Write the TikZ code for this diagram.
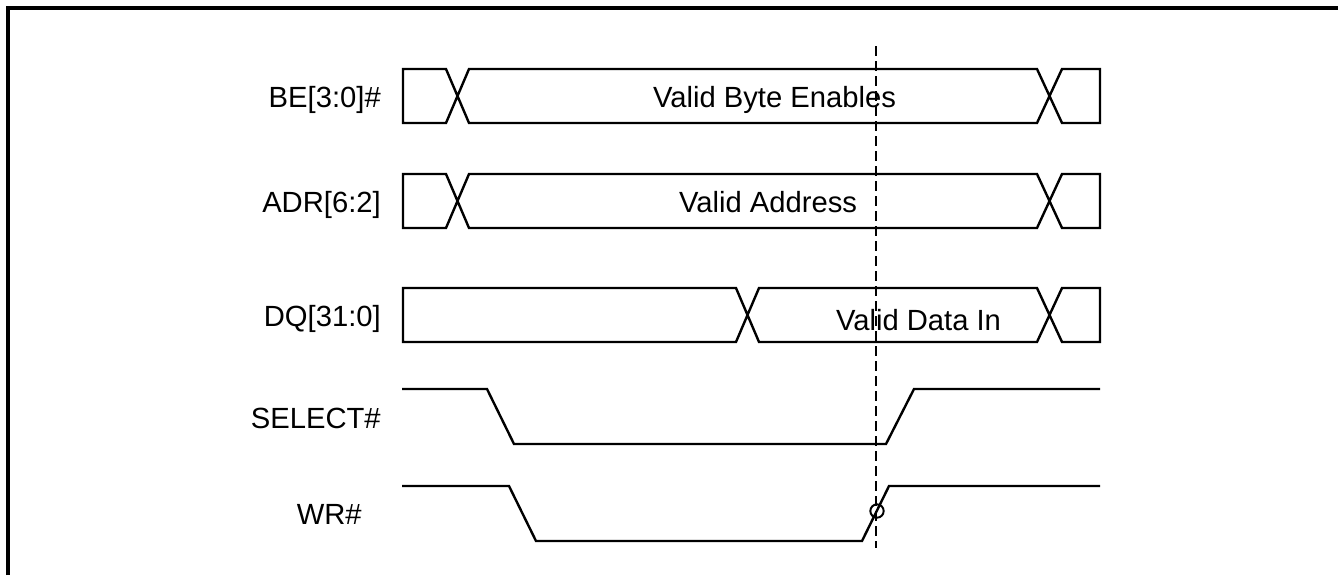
\documentclass[tikz,border=0pt]{standalone}
\usepackage{fontspec}
\setmainfont{Liberation Sans}
\begin{document}
\begin{tikzpicture}[x=0.75pt,y=-0.75pt,
  sig/.style={line width=1.8pt, line join=miter},
  frame/.style={line width=2.6pt},
  lbl/.style={anchor=base east, inner sep=0pt, font=\fontsize{21.9}{26}\selectfont},
  val/.style={anchor=base, inner sep=0pt, font=\fontsize{21.9}{26}\selectfont},
  mark line/.style={line width=1.4pt, dash pattern=on 7.5pt off 3.75pt},
  ring/.style={circle, draw, line width=1.5pt, minimum size=10pt, inner sep=0pt}]
\useasboundingbox (0,0) rectangle (1338,575);
% frame
\draw[frame] (8,575) -- (8,8) -- (1338,8);
% BE row
\draw[sig] (446,69) -- (403,69) -- (403,123) -- (446,123) -- (469,69) -- (1037,69) -- (1062,123) -- (1100,123) -- (1100,69) -- (1062,69) -- (1037,123) -- (469,123) -- cycle;
% ADR row
\draw[sig] (446,174) -- (403,174) -- (403,228) -- (446,228) -- (469,174) -- (1037,174) -- (1062,228) -- (1100,228) -- (1100,174) -- (1062,174) -- (1037,228) -- (469,228) -- cycle;
% DQ row
\draw[sig] (736,288) -- (403,288) -- (403,342) -- (736,342) -- (759,288) -- (1037,288) -- (1062,342) -- (1100,342) -- (1100,288) -- (1062,288) -- (1037,342) -- (759,342) -- cycle;
% SELECT#
\draw[sig] (402,389) -- (487,389) -- (514,444) -- (886,444) -- (914,389) -- (1100,389);
% WR#
\draw[sig] (402,486) -- (509,486) -- (536,541) -- (862,541) -- (889,486) -- (1100,486);
% labels
\node[lbl] (be) at (381,107) {BE[3:0]\#};
\node[lbl] (adr) at (381,212) {ADR[6:2]};
\node[lbl] (dq) at (381,326) {DQ[31:0]};
\node[lbl] (sel) at (381,428) {SELECT\#};
\node[lbl] (wr) at (362,524) {WR\#};
\node[val] (vbe) at (774.5,107) {Valid Byte Enables};
\node[val] (vadr) at (768,212) {Valid Address};
\node[val] (vdq) at (918.5,330) {Valid Data In};
% marker
\coordinate (mtop) at (876,46);
\coordinate (mbot) at (876,548);
\draw[mark line] (mtop) -- (mbot);
\node[ring] (ref) at (877,511) {};
\end{tikzpicture}
\end{document}
